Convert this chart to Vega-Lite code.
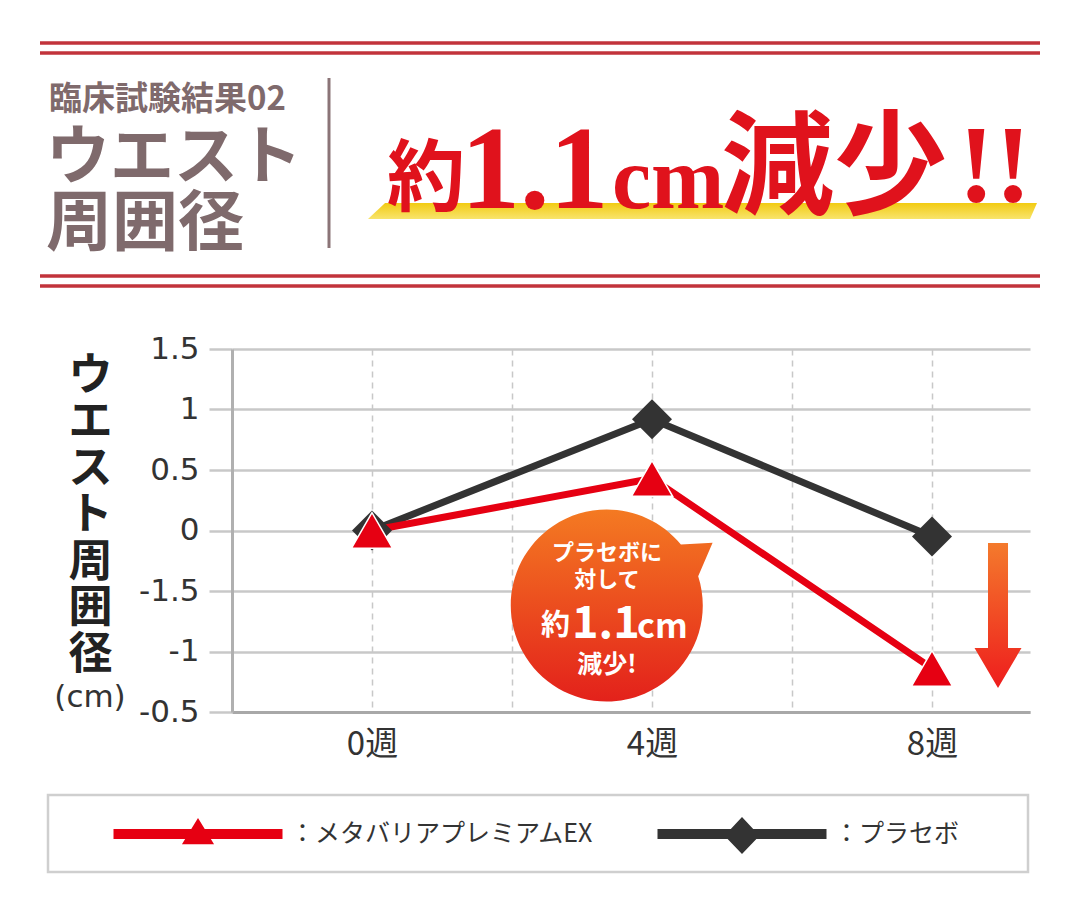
{
  "$schema": "https://vega.github.io/schema/vega-lite/v6.json",
  "width": 798,
  "height": 363,
  "autosize": {"type": "none"},
  "padding": {"left": 232, "top": 349, "right": 50, "bottom": 199},
  "background": "#ffffff",
  "config": {"view": {"stroke": null}},
  "resolve": {"scale": {"x": "independent", "y": "independent", "color": "independent", "shape": "independent"}},
  "layer": [
    {
      "layer": [
        {
          "data": {"values": [
            {"week": 0, "series": "メタバリアプレミアムEX", "value": 0},
            {"week": 4, "series": "メタバリアプレミアムEX", "value": 0.43},
            {"week": 8, "series": "メタバリアプレミアムEX", "value": -1.14},
            {"week": 0, "series": "プラセボ", "value": 0},
            {"week": 4, "series": "プラセボ", "value": 0.92},
            {"week": 8, "series": "プラセボ", "value": -0.05}
          ]},
          "encoding": {
            "x": {
              "field": "week", "type": "quantitative",
              "scale": {"domain": [-2, 9.4], "nice": false, "zero": false},
              "axis": {
                "title": null,
                "values": [0, 2, 4, 6, 8],
                "labelExpr": "datum.value % 4 === 0 ? datum.value + '週' : ''",
                "grid": true, "gridColor": "#c8c8c8", "gridWidth": 1.5, "gridDash": [6, 5],
                "ticks": false,
                "domainColor": "#a8a8a8", "domainWidth": 3,
                "labelFont": "Noto Sans CJK JP", "labelFontSize": 33, "labelColor": "#333333",
                "labelPadding": 16
              }
            },
            "y": {
              "field": "value", "type": "quantitative",
              "scale": {"domain": [-1.5, 1.5], "nice": false, "zero": false},
              "axis": {
                "values": [-1.5, -1, -0.5, 0, 0.5, 1, 1.5],
                "labelExpr": "datum.value === -0.5 ? '-1.5' : datum.value === -1.5 ? '-0.5' : '' + datum.value",
                "grid": true, "gridColor": "#c8c8c8", "gridWidth": 2.5,
                "tickColor": "#c8c8c8", "tickWidth": 2.5, "tickSize": 23,
                "domainColor": "#b0b0b0", "domainWidth": 3,
                "labelFont": "DejaVu Sans", "labelFontSize": 31, "labelColor": "#333333",
                "labelPadding": 10,
                "title": ["ウ", "エ", "ス", "ト", "周", "囲", "径"],
                "titleAngle": 0, "titleAlign": "center", "titleBaseline": "top",
                "titleX": -142, "titleY": 5,
                "titleFont": "Noto Sans CJK JP", "titleFontSize": 44, "titleFontWeight": "bold",
                "titleColor": "#222222", "titleLineHeight": 46.5
              }
            }
          },
          "layer": [
            {"transform": [{"filter": "datum.series === 'プラセボ'"}],
             "mark": {"type": "line", "color": "#333333", "strokeWidth": 7}},
            {"transform": [{"filter": "datum.series === 'メタバリアプレミアムEX'"}],
             "mark": {"type": "line", "color": "#e60012", "strokeWidth": 7}},
            {"transform": [{"filter": "datum.series === 'プラセボ'"}],
             "mark": {"type": "point", "shape": "diamond", "filled": true, "fill": "#333333", "size": 1600, "opacity": 1}},
            {"transform": [{"filter": "datum.series === 'メタバリアプレミアムEX'"}],
             "mark": {"type": "point", "shape": "triangle-up", "filled": true, "fill": "#e60012", "stroke": "#ffffff", "strokeWidth": 1.5, "size": 1700, "opacity": 1}}
          ]
        },
        {
          "data": {"values": [{}]},
          "layer": [
            {"mark": {"type": "point", "filled": true, "opacity": 1, "size": 36864,
                      "shape": "M0.77,-0.64L1.1,-0.66L0.95,-0.31A1,1,0,1,1,0.77,-0.64Z",
                      "fill": {"gradient": "linear", "x1": 0, "y1": 0, "x2": 0, "y2": 1,
                               "stops": [{"offset": 0, "color": "#f47a22"}, {"offset": 1, "color": "#e3211b"}]}},
             "encoding": {"x": {"datum": 3.357, "scale": {"domain": [-2, 9.4], "nice": false, "zero": false}},
                          "y": {"datum": -0.624, "scale": {"domain": [-1.5, 1.5], "nice": false, "zero": false}}}},
            {"mark": {"type": "point", "filled": true, "opacity": 1, "size": 21025,
                      "shape": "M-0.138,-1L0.138,-1L0.138,0.448L0.324,0.448L0,1L-0.324,0.448L-0.138,0.448Z",
                      "fill": {"gradient": "linear", "x1": 0, "y1": 0, "x2": 0, "y2": 1,
                               "stops": [{"offset": 0, "color": "#f47a2c"}, {"offset": 1, "color": "#ee1d1d"}]}},
             "encoding": {"x": {"datum": 8.943, "scale": {"domain": [-2, 9.4], "nice": false, "zero": false}},
                          "y": {"datum": -0.702, "scale": {"domain": [-1.5, 1.5], "nice": false, "zero": false}}}},
            {"mark": {"type": "text", "text": "プラセボに", "font": "Noto Sans CJK JP", "fontWeight": "bold", "fontSize": 22,
                      "color": "#ffffff", "align": "center", "baseline": "middle", "dy": -53},
             "encoding": {"x": {"datum": 3.357}, "y": {"datum": -0.624}}},
            {"mark": {"type": "text", "text": "対して", "font": "Noto Sans CJK JP", "fontWeight": "bold", "fontSize": 22,
                      "color": "#ffffff", "align": "center", "baseline": "middle", "dy": -26},
             "encoding": {"x": {"datum": 3.357}, "y": {"datum": -0.624}}},
            {"mark": {"type": "text", "text": "約", "font": "Noto Sans CJK JP", "fontWeight": "bold", "fontSize": 29,
                      "color": "#ffffff", "align": "right", "baseline": "alphabetic", "dx": -37, "dy": 29},
             "encoding": {"x": {"datum": 3.357}, "y": {"datum": -0.624}}},
            {"mark": {"type": "text", "text": "1.1", "font": "Noto Sans CJK JP", "fontWeight": "bold", "fontSize": 45,
                      "color": "#ffffff", "align": "left", "baseline": "alphabetic", "dx": -35, "dy": 32},
             "encoding": {"x": {"datum": 3.357}, "y": {"datum": -0.624}}},
            {"mark": {"type": "text", "text": "cm", "font": "Noto Sans CJK JP", "fontWeight": "bold", "fontSize": 34,
                      "color": "#ffffff", "align": "left", "baseline": "alphabetic", "dx": 30, "dy": 32},
             "encoding": {"x": {"datum": 3.357}, "y": {"datum": -0.624}}},
            {"mark": {"type": "text", "text": "減少!", "font": "Noto Sans CJK JP", "fontWeight": "bold", "fontSize": 25,
                      "color": "#ffffff", "align": "center", "baseline": "middle", "dy": 59},
             "encoding": {"x": {"datum": 3.357}, "y": {"datum": -0.624}}}
          ]
        }
      ]
    },
    {
      "data": {"values": [{}]},
      "layer": [
        {"mark": {"type": "rule", "color": "#c2333b", "strokeWidth": 3.5},
         "encoding": {"x": {"datum": 40, "scale": {"domain": [0, 1080], "range": [-232, 848], "nice": false, "zero": false}, "axis": null},
                      "x2": {"datum": 1040},
                      "y": {"datum": 43, "scale": {"domain": [0, 911], "range": [-349, 562], "nice": false, "zero": false}, "axis": null}}},
        {"mark": {"type": "rule", "color": "#c2333b", "strokeWidth": 3.5},
         "encoding": {"x": {"datum": 40}, "x2": {"datum": 1040}, "y": {"datum": 53}}},
        {"mark": {"type": "rule", "color": "#c2333b", "strokeWidth": 3.5},
         "encoding": {"x": {"datum": 40}, "x2": {"datum": 1040}, "y": {"datum": 276}}},
        {"mark": {"type": "rule", "color": "#c2333b", "strokeWidth": 3.5},
         "encoding": {"x": {"datum": 40}, "x2": {"datum": 1040}, "y": {"datum": 286}}},
        {"mark": {"type": "rule", "color": "#8b7477", "strokeWidth": 3},
         "encoding": {"x": {"datum": 329}, "y": {"datum": 78}, "y2": {"datum": 248}}},
        {"mark": {"type": "text", "text": "臨床試験結果02", "font": "Noto Sans CJK JP", "fontWeight": "bold", "fontSize": 33,
                  "color": "#7f6a6c", "align": "left", "baseline": "alphabetic"},
         "encoding": {"x": {"datum": 49}, "y": {"datum": 110}}},
        {"mark": {"type": "text", "text": "ウエスト", "font": "Noto Sans CJK JP", "fontWeight": "bold", "fontSize": 64,
                  "color": "#7f6a6c", "align": "left", "baseline": "alphabetic"},
         "encoding": {"x": {"datum": 46}, "y": {"datum": 178}}},
        {"mark": {"type": "text", "text": "周囲径", "font": "Noto Sans CJK JP", "fontWeight": "bold", "fontSize": 66,
                  "color": "#7f6a6c", "align": "left", "baseline": "alphabetic"},
         "encoding": {"x": {"datum": 46}, "y": {"datum": 245}}},
        {"mark": {"type": "point", "filled": true, "opacity": 1, "size": 447561,
                  "shape": "M-1,0.024L-0.949,-0.024L1,-0.024L0.979,0.024Z",
                  "fill": {"gradient": "linear", "x1": 0, "y1": 0, "x2": 0, "y2": 1,
                           "stops": [{"offset": 0, "color": "#f2cb12"}, {"offset": 1, "color": "#f8e46c"}]}},
         "encoding": {"x": {"datum": 702.5}, "y": {"datum": 211}}},
        {"mark": {"type": "text", "text": "約", "font": "Noto Sans CJK JP", "fontWeight": "bold", "fontSize": 78,
                  "color": "#e0121c", "align": "left", "baseline": "alphabetic"},
         "encoding": {"x": {"datum": 387}, "y": {"datum": 205}}},
        {"mark": {"type": "text", "text": "1.1", "font": "Liberation Serif", "fontWeight": "bold", "fontSize": 118,
                  "color": "#e0121c", "align": "left", "baseline": "alphabetic"},
         "encoding": {"x": {"datum": 461}, "y": {"datum": 208}}},
        {"mark": {"type": "text", "text": "cm", "font": "Liberation Serif", "fontWeight": "bold", "fontSize": 88,
                  "color": "#e0121c", "align": "left", "baseline": "alphabetic"},
         "encoding": {"x": {"datum": 612}, "y": {"datum": 208}}},
        {"mark": {"type": "text", "text": "減少", "font": "Noto Sans CJK JP", "fontWeight": "bold", "fontSize": 113,
                  "color": "#e0121c", "align": "left", "baseline": "alphabetic"},
         "encoding": {"x": {"datum": 721}, "y": {"datum": 205}}},
        {"mark": {"type": "text", "text": "!!", "font": "Liberation Serif", "fontWeight": "bold", "fontSize": 110,
                  "color": "#e0121c", "align": "left", "baseline": "alphabetic"},
         "encoding": {"x": {"datum": 958}, "y": {"datum": 201}}},
        {"mark": {"type": "text", "text": "(cm)", "font": "DejaVu Sans", "fontSize": 31,
                  "color": "#333333", "align": "center", "baseline": "middle"},
         "encoding": {"x": {"datum": 90}, "y": {"datum": 698}}},
        {"mark": {"type": "rect", "fill": "#ffffff", "stroke": "#cfcfcf", "strokeWidth": 2.5},
         "encoding": {"x": {"datum": 48}, "x2": {"datum": 1028}, "y": {"datum": 795}, "y2": {"datum": 872}}}
      ]
    },
    {
      "data": {"values": [
        {"series": "メタバリアプレミアムEX", "label": "：メタバリアプレミアムEX"},
        {"series": "プラセボ", "label": "：プラセボ"}
      ]},
      "encoding": {
        "x": {"field": "series", "type": "nominal",
              "scale": {"type": "point", "domain": ["メタバリアプレミアムEX", "プラセボ"], "range": [-34, 510], "padding": 0},
              "axis": null},
        "y": {"datum": 834, "scale": {"domain": [0, 911], "range": [-349, 562], "nice": false, "zero": false}, "axis": null}
      },
      "layer": [
        {"mark": {"type": "point", "filled": true, "opacity": 1, "size": 28561},
         "encoding": {
           "shape": {"field": "series", "type": "nominal",
                     "scale": {"domain": ["メタバリアプレミアムEX", "プラセボ"],
                               "range": ["M-1,-0.059L1,-0.059L1,0.059L-1,0.059ZM0,-0.19L0.19,0.12L-0.19,0.12Z",
                                         "M-1,-0.059L1,-0.059L1,0.059L-1,0.059ZM0,-0.2L0.207,0.02L0,0.237L-0.207,0.02Z"]},
                     "legend": null},
           "color": {"field": "series", "type": "nominal",
                     "scale": {"domain": ["メタバリアプレミアムEX", "プラセボ"], "range": ["#e60012", "#333333"]},
                     "legend": null}
         }},
        {"mark": {"type": "text", "dx": 92, "align": "left", "baseline": "middle", "font": "Noto Sans CJK JP",
                  "fontSize": 25, "color": "#333333"},
         "encoding": {"text": {"field": "label"}}}
      ]
    }
  ]
}
